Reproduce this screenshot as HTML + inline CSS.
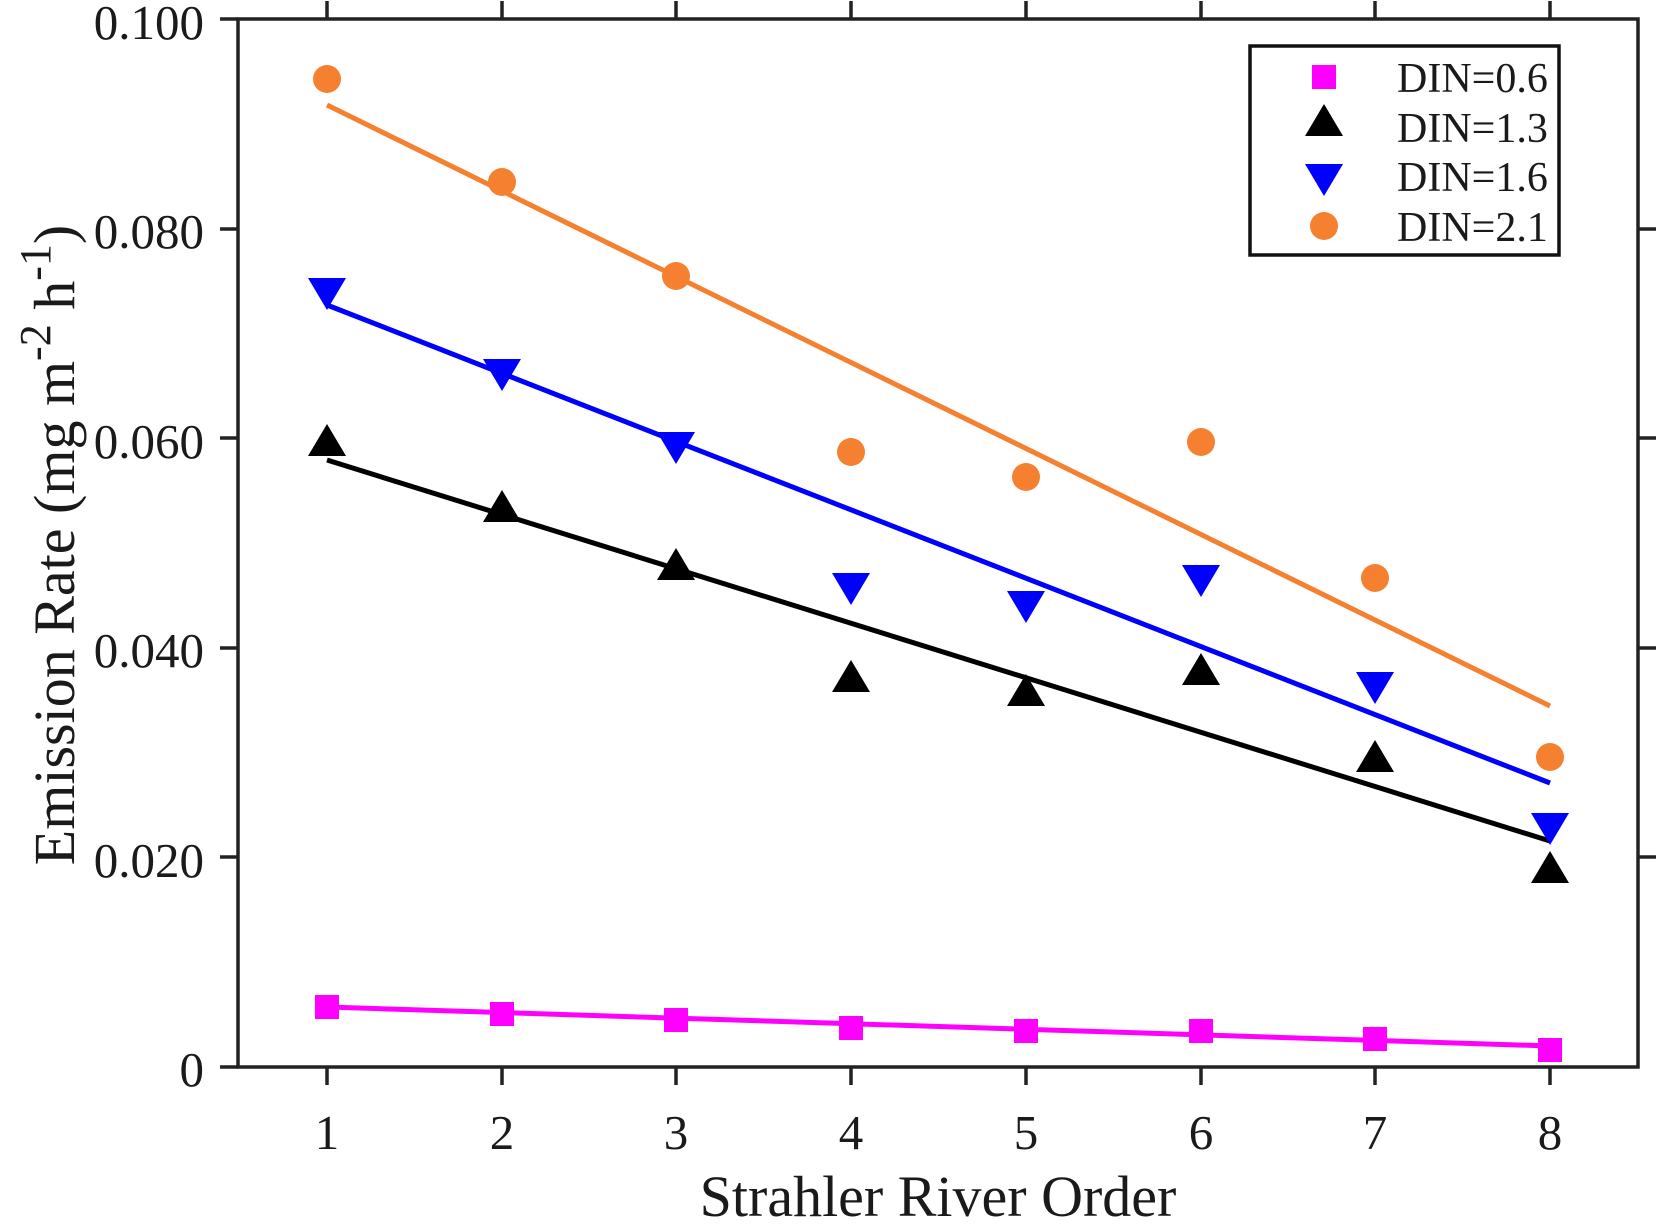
<!DOCTYPE html>
<html><head><meta charset="utf-8"><style>
html,body{margin:0;padding:0;background:#fff}
svg{display:block}
text{font-family:"Liberation Serif",serif;fill:#1a1a1a}
</style></head><body>
<svg width="1659" height="1225" viewBox="0 0 1659 1225" xmlns="http://www.w3.org/2000/svg">
<defs>
<g id="sq"><rect x="-12" y="-12" width="24" height="24" fill="#ff00ff"/></g>
<g id="tu"><polygon points="0,-20 19,12 -19,12" fill="#000"/></g>
<g id="td"><polygon points="0,20 19,-12 -19,-12" fill="#0000ff"/></g>
<g id="ci"><circle r="14" fill="#f5802f"/></g>
</defs>
<g stroke="#222" stroke-width="3.5" fill="none">
<rect x="238" y="19" width="1400" height="1048"/>
<path d="M327,1067v18M502,1067v18M676,1067v18M851,1067v18M1026,1067v18M1201,1067v18M1375,1067v18M1550,1067v18"/>
<path d="M327,19v-18M502,19v-18M676,19v-18M851,19v-18M1026,19v-18M1201,19v-18M1375,19v-18M1550,19v-18"/>
<path d="M238,1067h-18M238,857h-18M238,648h-18M238,438h-18M238,229h-18M238,19h-18"/>
<path d="M1638,857h18M1638,648h18M1638,438h18M1638,229h18"/>
</g>
<g font-size="49" text-anchor="end">
<text x="204" y="1086">0</text>
<text x="204" y="877">0.020</text>
<text x="204" y="667">0.040</text>
<text x="204" y="458">0.060</text>
<text x="204" y="248">0.080</text>
<text x="204" y="39">0.100</text>
</g>
<g font-size="49" text-anchor="middle">
<text x="327" y="1149">1</text><text x="502" y="1149">2</text><text x="676" y="1149">3</text><text x="851" y="1149">4</text>
<text x="1026" y="1149">5</text><text x="1201" y="1149">6</text><text x="1375" y="1149">7</text><text x="1550" y="1149">8</text>
</g>
<text x="938" y="1216" font-size="58" text-anchor="middle">Strahler River Order</text>
<text transform="translate(74,545) rotate(-90)" font-size="58" text-anchor="middle">Emission Rate (mg m<tspan dy="-24" font-size="44">-2</tspan><tspan dy="24"> h</tspan><tspan dy="-24" font-size="44">-1</tspan><tspan dy="24">)</tspan></text>
<g stroke-width="5" fill="none">
<line x1="327" y1="105" x2="1550" y2="706" stroke="#f5802f"/>
<line x1="327" y1="305" x2="1550" y2="783" stroke="#0000ff"/>
<line x1="327" y1="460" x2="1550" y2="841" stroke="#000"/>
<line x1="327" y1="1007" x2="1550" y2="1046" stroke="#ff00ff"/>
</g>
<use href="#ci" x="327" y="79"/><use href="#ci" x="502" y="182"/><use href="#ci" x="676" y="276"/><use href="#ci" x="851" y="452"/><use href="#ci" x="1026" y="477"/><use href="#ci" x="1201" y="442"/><use href="#ci" x="1375" y="578"/><use href="#ci" x="1550" y="757"/>
<use href="#td" x="327" y="290"/><use href="#td" x="502" y="371"/><use href="#td" x="676" y="444"/><use href="#td" x="851" y="585"/><use href="#td" x="1026" y="603"/><use href="#td" x="1201" y="577"/><use href="#td" x="1375" y="684"/><use href="#td" x="1550" y="825"/>
<use href="#tu" x="327" y="444"/><use href="#tu" x="502" y="510"/><use href="#tu" x="676" y="568"/><use href="#tu" x="851" y="680"/><use href="#tu" x="1026" y="694"/><use href="#tu" x="1201" y="673"/><use href="#tu" x="1375" y="760"/><use href="#tu" x="1550" y="871"/>
<use href="#sq" x="327" y="1007"/><use href="#sq" x="502" y="1014"/><use href="#sq" x="676" y="1020"/><use href="#sq" x="851" y="1028"/><use href="#sq" x="1026" y="1031"/><use href="#sq" x="1201" y="1031"/><use href="#sq" x="1375" y="1039"/><use href="#sq" x="1550" y="1050"/>
<rect x="1250" y="46" width="309" height="209" fill="#fff" stroke="#111" stroke-width="3.5"/>
<use href="#sq" x="1324" y="77"/>
<use href="#tu" x="1324" y="124"/>
<use href="#td" x="1324" y="176"/>
<use href="#ci" x="1324" y="226"/>
<g font-size="42" style="fill:#000">
<text x="1397" y="92">DIN=0.6</text>
<text x="1397" y="142">DIN=1.3</text>
<text x="1397" y="191">DIN=1.6</text>
<text x="1397" y="241">DIN=2.1</text>
</g>
</svg>
</body></html>
